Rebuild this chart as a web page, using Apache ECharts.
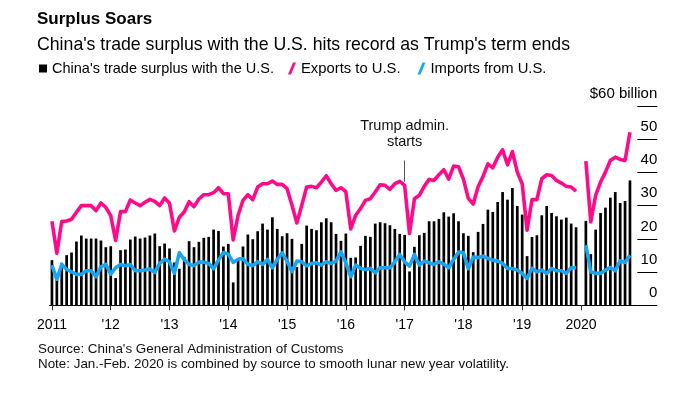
<!DOCTYPE html>
<html>
<head>
<meta charset="utf-8">
<script src="https://cdn.jsdelivr.net/npm/echarts@6/dist/echarts.min.js"></script>
<style>
html,body{margin:0;padding:0;background:#fff;}
#chart{width:698px;height:394px;}
</style>
</head>
<body>
<div id="chart"></div>
<script>
// ---- Data (USD billions, monthly Jan 2011 - Dec 2020; Jan-Feb 2020 combined, plotted at Feb) ----
var years = [2011, 2012, 2013, 2014, 2015, 2016, 2017, 2018, 2019, 2020];
var monthNames = ['Jan','Feb','Mar','Apr','May','Jun','Jul','Aug','Sep','Oct','Nov','Dec'];
var yearTickLabels = ['2011', "'12", "'13", "'14", "'15", "'16", "'17", "'18", "'19", '2020'];

var surplus = [
  13.6, 7.6, 12.8, 15.1, 15.9, 19.2, 21.0, 20.1, 20.1, 20.1, 19.5, 17.5,
  17.8, 8.2, 16.6, 16.8, 19.8, 20.7, 20.1, 20.4, 21.0, 21.6, 17.8, 18.6,
  17.1, 12.9, 11.0, 14.6, 19.3, 17.5, 19.1, 20.3, 20.6, 22.8, 22.4, 17.7,
  18.5, 6.9, 13.8, 17.7, 21.3, 19.9, 22.3, 24.6, 22.8, 26.5, 23.0, 20.8,
  21.7, 20.0, 11.5, 18.5, 24.0, 23.0, 22.6, 25.0, 26.2, 25.0, 21.5, 19.4,
  21.6, 14.3, 14.4, 17.9, 20.9, 20.6, 24.6, 25.0, 24.7, 24.1, 23.0, 21.5,
  21.2, 10.2, 17.6, 21.1, 21.8, 25.3, 25.3, 26.0, 28.0, 26.7, 27.7, 25.3,
  21.7, 20.9, 16.0, 22.1, 24.5, 28.8, 28.1, 31.1, 34.1, 31.8, 35.3, 29.9,
  27.3, 14.8, 20.6, 21.1, 27.1, 29.9, 27.8, 26.8, 25.8, 26.4, 24.6, 23.5,
  null, 25.4, 15.4, 22.8, 27.8, 29.4, 32.4, 34.1, 30.8, 31.4, 37.6, null
];
var exportsToUS = [
  25.3, 15.7, 25.2, 25.4, 25.9, 28.0, 30.0, 30.0, 30.0, 28.5, 30.8, 29.5,
  27.0, 19.5, 28.2, 28.2, 31.7, 30.8, 30.0, 31.0, 31.9, 31.3, 30.0, 32.3,
  30.7, 22.4, 26.5, 28.1, 31.2, 29.7, 32.0, 33.3, 33.3, 33.9, 35.4, 33.6,
  33.6, 19.7, 27.1, 31.6, 33.3, 31.8, 35.6, 36.6, 36.6, 37.4, 36.4, 36.4,
  35.1, 30.1, 24.8, 30.1, 35.6, 35.8, 35.4, 37.1, 39.0, 36.6, 34.6, 35.4,
  34.2, 23.0, 27.1, 29.1, 31.6, 32.1, 34.1, 36.3, 36.1, 34.9, 36.6, 37.3,
  36.1, 21.6, 32.1, 33.1, 35.8, 37.9, 37.6, 39.3, 40.8, 38.0, 41.9, 41.7,
  38.0, 32.2, 30.5, 35.7, 38.8, 42.6, 41.4, 44.6, 46.8, 42.3, 46.3, 40.1,
  36.6, 22.6, 31.8, 31.8, 38.1, 39.3, 39.1, 37.6, 36.8, 35.8, 35.6, 34.4,
  null, 43.4, 25.1, 33.1, 37.1, 40.1, 43.6, 44.6, 43.9, 43.6, 52.1, null
];
var importsFromUS = [
  12.1, 7.8, 12.3, 10.8, 10.1, 9.3, 9.3, 10.4, 10.4, 8.6, 11.6, 12.3,
  9.4, 11.3, 12.3, 11.9, 12.3, 10.4, 10.4, 10.6, 10.9, 9.9, 12.6, 13.9,
  13.1, 9.6, 15.8, 13.8, 12.3, 12.0, 13.0, 13.0, 12.6, 11.0, 13.6, 15.9,
  15.4, 12.9, 13.9, 14.0, 12.3, 12.0, 13.1, 12.3, 13.8, 11.3, 13.8, 15.8,
  13.3, 10.1, 13.3, 13.1, 11.9, 12.6, 12.8, 12.1, 13.1, 12.6, 13.3, 16.1,
  12.8, 8.6, 12.1, 11.1, 10.8, 11.1, 9.8, 11.3, 11.3, 11.3, 13.1, 15.3,
  13.1, 11.8, 15.3, 12.1, 13.3, 12.8, 12.3, 13.1, 12.4, 11.3, 13.8, 16.0,
  15.9, 11.0, 14.5, 14.4, 14.8, 14.1, 13.6, 13.3, 12.6, 11.1, 11.1, 10.6,
  9.6, 8.1, 11.1, 10.1, 10.6, 9.6, 11.1, 10.4, 10.4, 9.6, 11.3, 11.3,
  null, 18.1, 10.1, 9.6, 9.6, 10.6, 11.4, 10.4, 13.4, 12.9, 15.1, null
];
var yTicks = [0, 10, 20, 30, 40, 50, 60];

var categories = [];
years.forEach(function (y) { monthNames.forEach(function (m) { categories.push(m + ' ' + y); }); });

var NAME_S = "China's trade surplus with the U.S.";
var NAME_E = 'Exports to U.S.';
var NAME_I = 'Imports from U.S.';
var PINK = '#ff0a8a';
var BLUE = '#18a6f0';
var FONT = 'Liberation Sans, Arial, sans-serif';
var SLASH = 'path://M5,0 L8,0 L3,12 L0,12 Z';

var chart = echarts.init(document.getElementById('chart'), null, {renderer: 'canvas'});
chart.setOption({
  animation: false,
  backgroundColor: '#fff',
  textStyle: {fontFamily: FONT},
  title: [{
    text: 'Surplus Soars',
    subtext: "China's trade surplus with the U.S. hits record as Trump's term ends",
    left: 37, top: 9, itemGap: 6, padding: 0,
    textStyle: {fontFamily: FONT, fontSize: 17, fontWeight: 'bold', color: '#000', lineHeight: 20},
    subtextStyle: {fontFamily: FONT, fontSize: 17.7, color: '#000', lineHeight: 20}
  }, {
    text: "Source: China's General Administration of Customs\nNote: Jan.-Feb. 2020 is combined by source to smooth lunar new year volatility.",
    left: 38, top: 342, padding: 0,
    textStyle: {fontFamily: FONT, fontSize: 13.4, fontWeight: 'normal', color: '#111', lineHeight: 15}
  }],
  legend: [{
    left: 39, top: 61, padding: 0, itemWidth: 8, itemHeight: 8,
    textStyle: {fontFamily: FONT, fontSize: 14.5, color: '#000'},
    data: [{name: NAME_S, icon: 'rect'}],
    selectedMode: false
  }, {
    left: 288, top: 61, padding: 0, itemWidth: 8, itemHeight: 12, itemGap: 17,
    textStyle: {fontFamily: FONT, fontSize: 14.8, color: '#000'},
    data: [{name: NAME_E, icon: SLASH}, {name: NAME_I, icon: SLASH}],
    selectedMode: false
  }],
  grid: {left: 49.5, top: 106, width: 587.8, height: 199.3, containLabel: false},
  xAxis: {
    type: 'category',
    data: categories,
    boundaryGap: true,
    axisLine: {show: true, lineStyle: {color: '#000', width: 1}},
    axisTick: {show: true, alignWithLabel: true, length: 5, lineStyle: {color: '#333'},
      interval: function (i) { return i % 12 === 0; }},
    axisLabel: {
      interval: function (i) { return i % 12 === 0; },
      formatter: function (v, i) { return yearTickLabels[Math.floor(i / 12)]; },
      color: '#000', fontSize: 14, margin: 13, fontFamily: FONT
    },
    splitLine: {show: false}
  },
  yAxis: {
    type: 'value',
    position: 'right',
    min: yTicks[0], max: yTicks[yTicks.length - 1], interval: 10,
    axisLine: {show: false},
    axisTick: {show: true, inside: false, length: 20, lineStyle: {color: '#000', width: 1}},
    splitLine: {show: false},
    axisLabel: {
      formatter: function (v) { return v === 60 ? '$60 billion' : String(v); },
      align: 'right', verticalAlign: 'bottom', margin: 20,
      color: '#000', fontSize: 15, lineHeight: 15, padding: [0, 0, 5, 0], fontFamily: FONT
    }
  },
  series: [{
    name: NAME_S,
    type: 'bar',
    data: surplus,
    barWidth: 2.7,
    itemStyle: {color: '#000'},
    z: 1
  }, {
    name: NAME_E,
    type: 'line',
    data: exportsToUS,
    symbol: 'none',
    connectNulls: false,
    itemStyle: {color: PINK},
    lineStyle: {color: PINK, width: 3.6, join: 'round'},
    z: 3,
    markLine: {
      silent: true,
      symbol: ['none', 'none'],
      lineStyle: {color: '#555', width: 1, type: 'solid'},
      label: {show: true, position: 'end', formatter: 'Trump admin.\nstarts', color: '#111',
        fontSize: 14.5, lineHeight: 16, distance: 10, fontFamily: FONT},
      data: [[{coord: ['Jan 2017', 37.2]}, {coord: ['Jan 2017', 43.6]}]]
    }
  }, {
    name: NAME_I,
    type: 'line',
    data: importsFromUS,
    symbol: 'none',
    connectNulls: false,
    itemStyle: {color: BLUE},
    lineStyle: {color: BLUE, width: 3.6, join: 'round'},
    z: 4
  }]
});
</script>
</body>
</html>
